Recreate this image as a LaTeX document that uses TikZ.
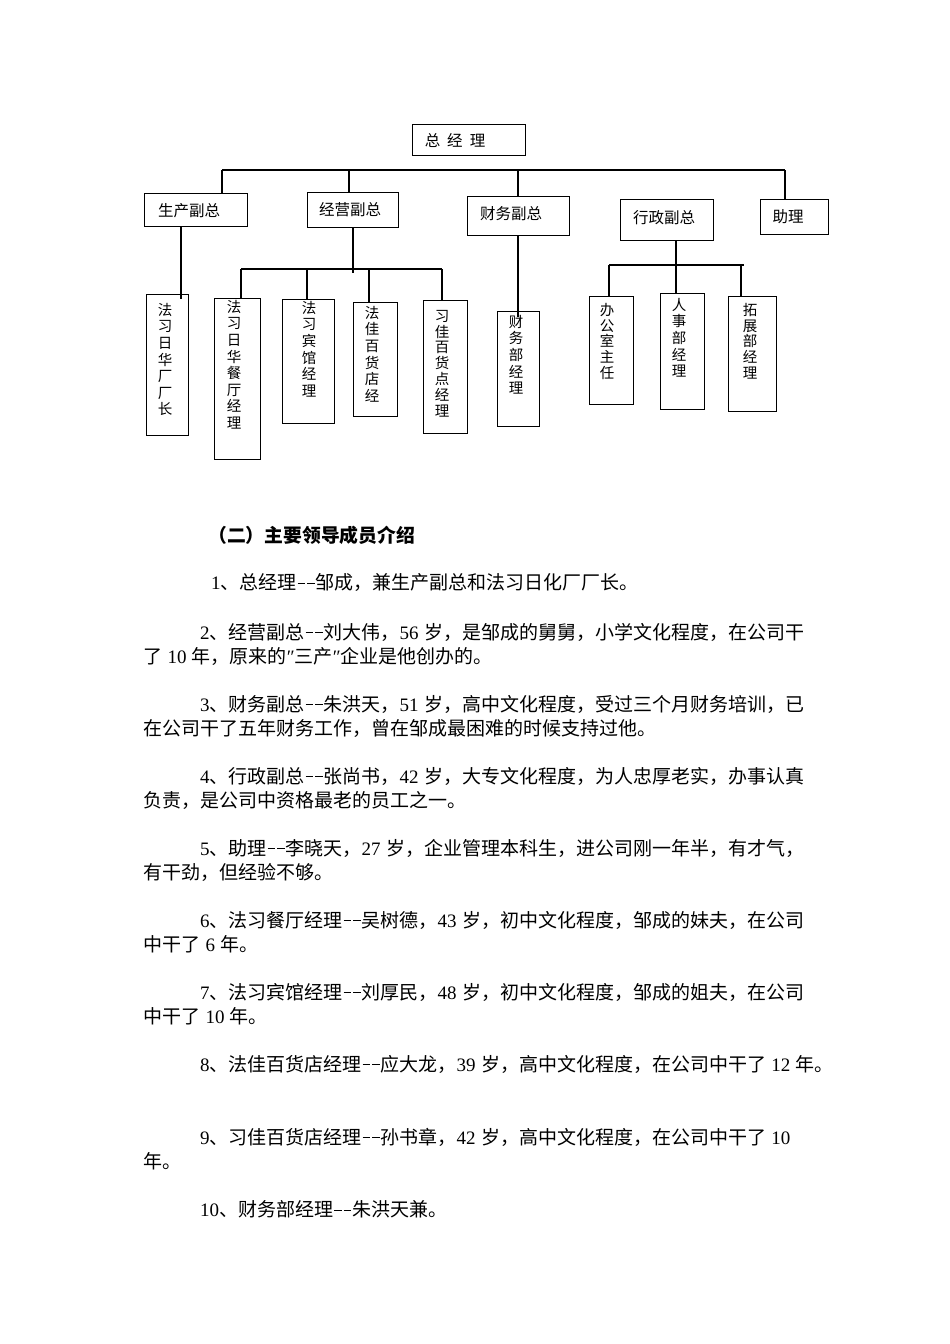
\documentclass[tikz,border=0pt]{standalone}
\usepackage{fontspec}
\newfontfamily\cjk{Noto Sans CJK SC}
\newfontfamily\lat{Liberation Serif}
\newcommand{\onedash}{\makebox[0.5em]{\rule[0.3em]{0.4em}{0.05em}}}
\newcommand{\dd}{\makebox[1em]{\onedash\onedash}}
\newcommand{\dg}[1]{{\lat #1}}
\newcommand{\hs}{\hspace{0.28em}}
\begin{document}
\begin{tikzpicture}[x=1pt,y=-1pt,
  box/.style={draw, line width=1.2pt, inner sep=0pt, anchor=north west},
  conn/.style={line width=1.2pt},
  hlab/.style={font=\cjk\fontsize{15.5}{18}\selectfont, inner sep=0pt},
  vlab/.style={font=\cjk\fontsize{14.5}{16.6}\selectfont, align=center, inner sep=0pt, anchor=north},
  body/.style={anchor=west, inner sep=0pt, font=\cjk\fontsize{19}{22}\selectfont},
  title/.style={anchor=west, inner sep=0pt, font=\cjk\bfseries\fontsize{18.8}{22}\selectfont}]
\useasboundingbox (0,0) rectangle (950,1344);
\fill[white] (0,0) rectangle (950,1344);

% ---------- top level ----------
\node[box, minimum width=113pt, minimum height=31pt] (gm) at (412,124) {};
\node[hlab] at (455,141) {总\hspace{7pt}经\hspace{7pt}理};

% ---------- deputies ----------
\node[box, minimum width=103pt, minimum height=33pt] (sc) at (144,193) {};
\node[hlab] at (189,211) {生产副总};
\node[box, minimum width=91pt, minimum height=35pt] (jy) at (307,192) {};
\node[hlab] at (350,210) {经营副总};
\node[box, minimum width=102pt, minimum height=39pt] (cw) at (467,196) {};
\node[hlab] at (511,214) {财务副总};
\node[box, minimum width=93pt, minimum height=41pt] (xz) at (620,199) {};
\node[hlab] at (664,218) {行政副总};
\node[box, minimum width=68pt, minimum height=35pt] (zl) at (760,199) {};
\node[hlab] at (788,217) {助理};

% ---------- third level ----------
\node[box, minimum width=42pt, minimum height=141pt] (c1) at (146,294) {};
\node[vlab] at (165,303) {法\\习\\日\\华\\厂\\厂\\长};
\node[box, minimum width=46pt, minimum height=161pt] (c2) at (214,298) {};
\node[vlab] at (234,300) {法\\习\\日\\华\\餐\\厅\\经\\理};
\node[box, minimum width=52pt, minimum height=124pt] (c3) at (282,299) {};
\node[vlab] at (309,301) {法\\习\\宾\\馆\\经\\理};
\node[box, minimum width=44pt, minimum height=114pt] (c4) at (353,302) {};
\node[vlab] at (372,306) {法\\佳\\百\\货\\店\\经};
\node[box, minimum width=44pt, minimum height=133pt] (c5) at (423,300) {};
\node[vlab, font=\cjk\fontsize{14.5}{15.8}\selectfont] at (442,310) {习\\佳\\百\\货\\点\\经\\理};
\node[box, minimum width=42pt, minimum height=115pt] (c6) at (497,311) {};
\node[vlab] at (516,315) {财\\务\\部\\经\\理};
\node[box, minimum width=44pt, minimum height=108pt] (c7) at (589,296) {};
\node[vlab, font=\cjk\fontsize{14.5}{15.8}\selectfont] at (607,303) {办\\公\\室\\主\\任};
\node[box, minimum width=44pt, minimum height=116pt] (c8) at (660,293) {};
\node[vlab] at (679,298) {人\\事\\部\\经\\理};
\node[box, minimum width=48pt, minimum height=115pt] (c9) at (728,296) {};
\node[vlab, font=\cjk\fontsize{14.5}{15.8}\selectfont] at (750,303) {拓\\展\\部\\经\\理};

% ---------- connectors ----------
\coordinate (b1L) at (222,170);
\coordinate (b1R) at (785,170);
\coordinate (b1j) at (349,170);
\coordinate (b1c) at (518,170);
\draw[conn] (b1L) -- (b1R);
\draw[conn] (b1L) -- (b1L |- sc.north);
\draw[conn] (b1j) -- (b1j |- jy.north);
\draw[conn] (b1c) -- (b1c |- cw.north);
\draw[conn] (b1R) -- (b1R |- zl.north);

\coordinate (s1) at (181,299);
\draw[conn] (s1 |- sc.south) -- (s1);

\coordinate (j0) at (353,273);
\draw[conn] (j0 |- jy.south) -- (j0);
\coordinate (b2L) at (241,269);
\coordinate (b2b) at (307,269);
\coordinate (b2c) at (369,269);
\coordinate (b2R) at (442,269);
\draw[conn] (b2L) -- (b2R);
\draw[conn] (b2L) -- (b2L |- c2.north);
\draw[conn] (b2b) -- (b2b |- c3.north);
\draw[conn] (b2c) -- (b2c |- c4.north);
\draw[conn] (b2R) -- (b2R |- c5.north);

\coordinate (f0) at (518,317);
\draw[conn] (f0 |- cw.south) -- (f0);

\coordinate (x0) at (676,265);
\draw[conn] (x0 |- xz.south) -- (x0 |- c8.north);
\coordinate (b3L) at (609,265);
\coordinate (b3r) at (741,265);
\coordinate (b3R) at (744,265);
\draw[conn] (b3L) -- (b3R);
\draw[conn] (b3L) -- (b3L |- c7.north);
\draw[conn] (b3r) -- (b3r |- c9.north);

% ---------- text ----------
\node[title] (t0) at (208,535) {（二）主要领导成员介绍};
\node[body] (p1) at (211,583) {\dg{1}、总经理\dd 邹成，兼生产副总和法习日化厂厂长。};
\node[body] (p2a) at (200,632) {\dg{2}、经营副总\dd 刘大伟，\dg{56}\hs 岁，是邹成的舅舅，小学文化程度，在公司干};
\node[body] (p2b) at (143,656) {了\hs\dg{10}\hs 年，原来的\dg{″}三产\dg{″}企业是他创办的。};
\node[body] (p3a) at (200,704) {\dg{3}、财务副总\dd 朱洪天，\dg{51}\hs 岁，高中文化程度，受过三个月财务培训，已};
\node[body] (p3b) at (143,728) {在公司干了五年财务工作，曾在邹成最困难的时候支持过他。};
\node[body] (p4a) at (200,776) {\dg{4}、行政副总\dd 张尚书，\dg{42}\hs 岁，大专文化程度，为人忠厚老实，办事认真};
\node[body] (p4b) at (143,800) {负责，是公司中资格最老的员工之一。};
\node[body] (p5a) at (200,848) {\dg{5}、助理\dd 李晓天，\dg{27}\hs 岁，企业管理本科生，进公司刚一年半，有才气，};
\node[body] (p5b) at (143,872) {有干劲，但经验不够。};
\node[body] (p6a) at (200,920) {\dg{6}、法习餐厅经理\dd 吴树德，\dg{43}\hs 岁，初中文化程度，邹成的妹夫，在公司};
\node[body] (p6b) at (143,944) {中干了\hs\dg{6}\hs 年。};
\node[body] (p7a) at (200,992) {\dg{7}、法习宾馆经理\dd 刘厚民，\dg{48}\hs 岁，初中文化程度，邹成的姐夫，在公司};
\node[body] (p7b) at (143,1016) {中干了\hs\dg{10}\hs 年。};
\node[body] (p8) at (200,1064) {\dg{8}、法佳百货店经理\dd 应大龙，\dg{39}\hs 岁，高中文化程度，在公司中干了\hs\dg{12}\hs 年。};
\node[body] (p9a) at (200,1137) {\dg{9}、习佳百货店经理\dd 孙书章，\dg{42}\hs 岁，高中文化程度，在公司中干了\hs\dg{10}};
\node[body] (p9b) at (143,1161) {年。};
\node[body] (p10) at (200,1209) {\dg{10}、财务部经理\dd 朱洪天兼。};
\end{tikzpicture}
\end{document}
